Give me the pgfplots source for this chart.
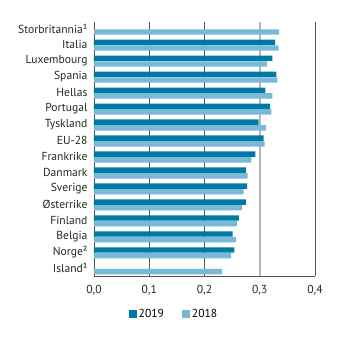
\documentclass[border=0pt]{standalone}
\usepackage{pgfplots}
\pgfplotsset{compat=1.18}
\usepackage{fontspec}
\setmainfont{PT Sans}
\definecolor{darkb}{HTML}{0079A6}
\definecolor{lightb}{HTML}{78B9D7}
\definecolor{gridd}{HTML}{555555}
\definecolor{gridl}{HTML}{B5B5B5}
\begin{document}
\begin{tikzpicture}
\useasboundingbox (-94bp,-65bp) rectangle (251bp,276bp);
\begin{axis}[
  at={(0,0)}, anchor=south west,
  scale only axis, width=221bp, height=254bp,
  xbar, bar width=5.4bp,
  xmin=0, xmax=0.4,
  ymin=-0.45, ymax=15.45,
  y dir=reverse,
  ytick={0,...,15},
  yticklabels={Storbritannia¹,Italia,Luxembourg,Spania,Hellas,Portugal,Tyskland,EU-28,Frankrike,Danmark,Sverige,Østerrike,Finland,Belgia,Norge²,Island¹},
  xtick={0,0.1,0.2,0.3,0.4},
  xticklabels={{0,0},{0,1},{0,2},{0,3},{0,4}},
  major tick length=0pt,
  tick label style={font=\fontsize{11.6bp}{13bp}\selectfont, text=black!85},
  yticklabel style={yshift=0.5bp, xshift=-3bp},
  xticklabel style={yshift=-6bp},
  axis lines*=left,
  axis line style={gridd, line width=0.8pt},
  legend style={at={(0.362,-0.115)}, anchor=north, draw=none, fill=none,
    legend columns=2, font=\fontsize{11.6bp}{13bp}\selectfont,
    /tikz/every even column/.append style={column sep=16bp}},
  legend image code/.code={\fill[#1] (0bp,-4bp) rectangle (8bp,4bp);},
  clip=false,
]
\draw[gridd, line width=0.6pt] (axis cs:0.1,-0.45) -- (axis cs:0.1,15.45);
\draw[gridd, line width=0.6pt] (axis cs:0.2,-0.45) -- (axis cs:0.2,15.45);
\draw[gridl, line width=1.6pt] (axis cs:0.3,-0.45) -- (axis cs:0.3,15.45);
\draw[gridd, line width=0.8pt] (axis cs:0.4,-0.45) -- (axis cs:0.4,15.45);
\addplot[fill=darkb, draw=none, bar shift=2.85bp] coordinates {
 (0.328,1) (0.323,2) (0.330,3) (0.310,4) (0.319,5) (0.298,6) (0.307,7)
 (0.292,8) (0.275,9) (0.277,10) (0.275,11) (0.262,12) (0.251,13) (0.254,14)};
\addlegendentry{2019}
\addplot[fill=lightb, draw=none, bar shift=-2.85bp] coordinates {
 (0.335,0) (0.334,1) (0.313,2) (0.332,3) (0.323,4) (0.321,5) (0.311,6) (0.309,7)
 (0.285,8) (0.278,9) (0.271,10) (0.268,11) (0.259,12) (0.257,13) (0.248,14) (0.232,15)};
\addlegendentry{2018}
\end{axis}
\end{tikzpicture}
\end{document}
